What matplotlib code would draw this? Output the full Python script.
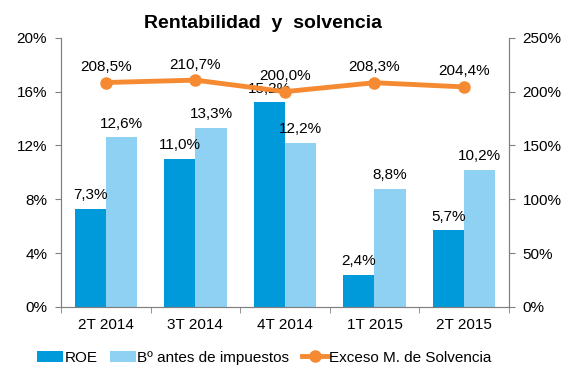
import numpy as np
import matplotlib.pyplot as plt

plt.rcParams['font.family'] = ['Liberation Sans', 'DejaVu Sans']

periodos = ["2T 2014", "3T 2014", "4T 2014", "1T 2015", "2T 2015"]
roe = [7.3, 11.0, 15.2, 2.4, 5.7]
beneficio = [12.6, 13.3, 12.2, 8.8, 10.2]
solvencia = [208.5, 210.7, 200.0, 208.3, 204.4]


def fmt(v):
    return f"{v:.1f}%".replace(".", ",")


fig = plt.figure(figsize=(5.71, 3.9), dpi=100)
ax = fig.add_axes([0.107, 0.213, 0.784, 0.69])
ax2 = ax.twinx()

x = np.arange(len(periodos))
w = 0.35
c_roe = "#0099DA"
c_ben = "#8ED1F3"
c_sol = "#F58A32"

b1 = ax.bar(x - w / 2, roe, w, color=c_roe, label="ROE", zorder=2)
b2 = ax.bar(x + w / 2, beneficio, w, color=c_ben, label="Bº antes de impuestos", zorder=2)

for xi, v in zip(x, roe):
    ax.text(xi - w / 2, v + 0.5, fmt(v), ha="center", va="bottom", fontsize=11)
for xi, v in zip(x, beneficio):
    ax.text(xi + w / 2, v + 0.5, fmt(v), ha="center", va="bottom", fontsize=11)

l1, = ax2.plot(x, solvencia, color=c_sol, lw=3.5, marker="o", ms=8,
               label="Exceso M. de Solvencia", zorder=3)
for xi, v in zip(x, solvencia):
    ax2.text(xi, v + 8, fmt(v), ha="center", va="bottom", fontsize=11)

ax.set_xlim(-0.5, len(periodos) - 0.5)
ax.set_ylim(0, 20)
ax.set_yticks([0, 4, 8, 12, 16, 20])
ax.set_yticklabels([f"{t}%" for t in [0, 4, 8, 12, 16, 20]], fontsize=11)
ax2.set_ylim(0, 250)
ax2.set_yticks([0, 50, 100, 150, 200, 250])
ax2.set_yticklabels([f"{t}%" for t in [0, 50, 100, 150, 200, 250]], fontsize=11)

ax.set_xticks(x)
ax.set_xticklabels(periodos, fontsize=11)
ax.set_xticks(np.arange(len(periodos) + 1) - 0.5, minor=True)
ax.tick_params(axis="x", which="major", length=0, pad=8)
ax.tick_params(axis="x", which="minor", length=4, color="#808080")
ax.tick_params(axis="y", length=4, color="#808080", pad=6)
ax2.tick_params(axis="y", length=4, color="#808080", pad=6)

for a in (ax, ax2):
    a.spines["top"].set_visible(False)
    for s in ("left", "right", "bottom"):
        a.spines[s].set_color("#808080")

ax.set_zorder(ax2.get_zorder() - 1)
ax.patch.set_visible(False)

fig.text(0.461, 0.941, "Rentabilidad  y  solvencia", fontsize=14, fontweight="bold",
         ha="center", va="center")

fig.legend(handles=[b1, b2, l1], loc="lower center", bbox_to_anchor=(0.463, 0.03),
           ncol=3, frameon=False, fontsize=11, handlelength=1.7, handletextpad=0.1,
           columnspacing=0.8, numpoints=1)

fig.savefig("out.png", dpi=100)
